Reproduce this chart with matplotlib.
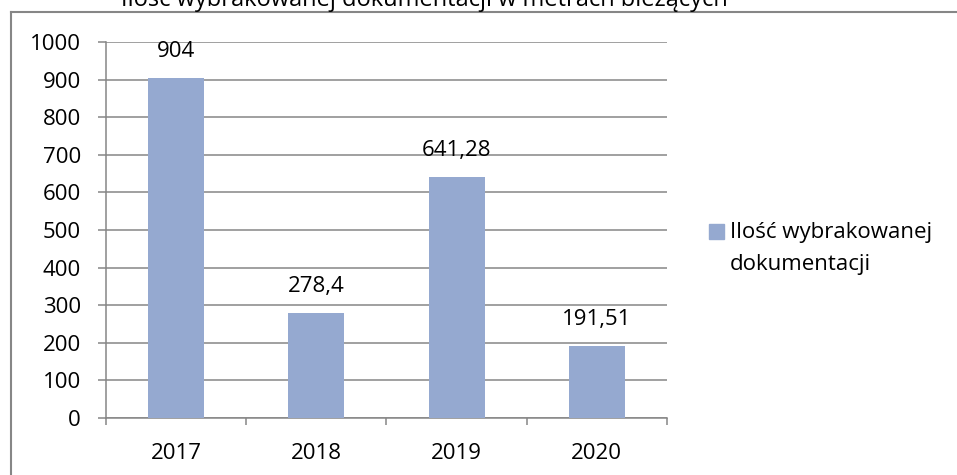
import matplotlib
matplotlib.use("Agg")
import matplotlib.pyplot as plt
from matplotlib.lines import Line2D
from matplotlib.patches import Rectangle

plt.rcParams["font.family"] = ["Open Sans", "DejaVu Sans"]

# Dane: ilość wybrakowanej dokumentacji (mb) w kolejnych latach
years = ["2017", "2018", "2019", "2020"]
values = [904, 278.4, 641.28, 191.51]
series_name = "Ilość wybrakowanej\ndokumentacji"
title = "Ilość wybrakowanej dokumentacji w metrach bieżących"

bar_color = "#95a9d0"
grid_color = "#868686"
W, H = 957, 475


def fx(px):
    return px / W


def fy(py):
    # współrzędna y liczona od góry obrazka
    return 1 - py / H


fig = plt.figure(figsize=(W / 100, H / 100), dpi=100)
ax = fig.add_axes([fx(106), fy(418), fx(667 - 106), (418 - 42) / H])

x = range(len(years))
ax.bar(x, values, width=0.4, color=bar_color, zorder=3)

# etykiety wartości z przecinkiem dziesiętnym
for xi, v in zip(x, values):
    label = f"{v:g}".replace(".", ",")
    ax.annotate(label, (xi, v), xytext=(0, 19), textcoords="offset points",
                ha="center", va="center", fontsize=16, color="#000000")

ax.set_xlim(-0.5, len(years) - 0.5)
ax.set_ylim(0, 1000)
ax.set_yticks(range(0, 1001, 100))
ax.set_xticks([i - 0.5 for i in range(len(years) + 1)])
ax.set_xticklabels([])
ax.set_xticks(list(x), minor=True)
ax.set_xticklabels(years, minor=True)

ax.grid(axis="y", color=grid_color, linewidth=1.1, zorder=0)
for side in ["top", "right"]:
    ax.spines[side].set_visible(False)
for side in ["left", "bottom"]:
    ax.spines[side].set_color(grid_color)
    ax.spines[side].set_linewidth(1.1)

ax.tick_params(axis="y", which="major", length=6, width=1.1, color=grid_color,
               pad=12, labelsize=16)
ax.tick_params(axis="x", which="major", length=5, width=1.1, color=grid_color)
ax.tick_params(axis="x", which="minor", length=0, pad=18, labelsize=16)

# legenda: kwadrat z kolorem serii i dwuwierszowy opis
fig.add_artist(Rectangle((fx(709), fy(239)), fx(15), 15 / H, color=bar_color,
                         transform=fig.transFigure))
fig.text(fx(730), fy(222), series_name, ha="left", va="top", fontsize=16,
         linespacing=1.7)

fig.text(fx(424), fy(5.5), title, ha="center", va="baseline", fontsize=17)

# ramka obszaru wykresu
fig.add_artist(Line2D([fx(11), fx(11)], [0, fy(12)],
                      color=grid_color, linewidth=1.5, transform=fig.transFigure))
fig.add_artist(Line2D([fx(11), 1], [fy(12), fy(12)],
                      color=grid_color, linewidth=1.5, transform=fig.transFigure))

fig.savefig("out.png", dpi=100)
